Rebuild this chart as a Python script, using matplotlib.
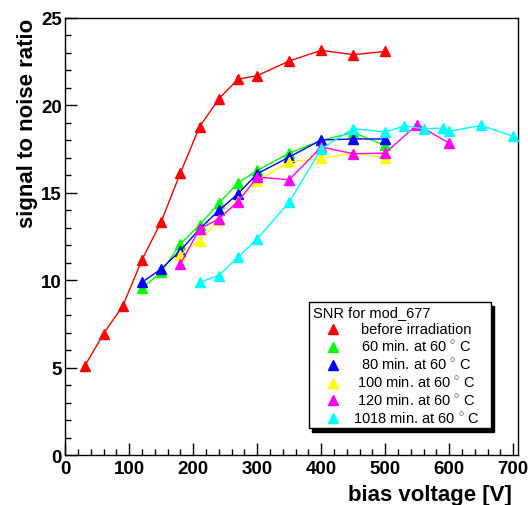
import matplotlib
matplotlib.use('Agg')
import matplotlib.pyplot as plt
from matplotlib.patches import Rectangle
from matplotlib.ticker import MultipleLocator

plt.rcParams['font.family'] = ['Liberation Sans', 'DejaVu Sans']
plt.rcParams['mathtext.fontset'] = 'custom'
plt.rcParams['mathtext.rm'] = 'Liberation Sans'

# bias voltage [V] and signal-to-noise ratio for each annealing step
volts_before = [30, 60, 90, 120, 150, 180, 210, 240, 270, 300, 350, 400, 450, 500]
snr_before = [5.08, 6.95, 8.55, 11.18, 13.36, 16.15, 18.78, 20.38, 21.5, 21.7,
              22.54, 23.15, 22.9, 23.09]

volts_60 = [120, 150, 180, 210, 240, 270, 300, 350, 400, 450, 500]
snr_60 = [9.55, 10.46, 12.08, 13.17, 14.41, 15.57, 16.28, 17.27, 18.0, 18.45, 17.71]

volts_80 = [120, 150, 180, 210, 240, 270, 300, 350, 400, 450, 500]
snr_80 = [9.89, 10.65, 11.7, 12.94, 13.99, 14.95, 16.09, 17.05, 18.02, 18.08, 18.08]

volts_100 = [180, 210, 240, 270, 300, 350, 400, 450, 500]
snr_100 = [11.45, 12.27, 13.45, 14.55, 15.7, 16.76, 16.97, 17.27, 17.02]

volts_120 = [180, 210, 240, 270, 300, 350, 400, 450, 500, 550, 600]
snr_120 = [10.94, 12.94, 13.51, 14.5, 15.9, 15.75, 17.62, 17.24, 17.27, 18.9, 17.84]

volts_1018 = [210, 240, 270, 300, 350, 400, 450, 500, 530, 560, 590, 600, 650, 700]
snr_1018 = [9.89, 10.27, 11.32, 12.37, 14.47, 17.52, 18.67, 18.48, 18.82, 18.67,
            18.7, 18.51, 18.86, 18.23]

series = [
    (volts_before, snr_before, '#ff0000', 'before irradiation'),
    (volts_60, snr_60, '#00ff00', '60 min. at 60 $^{\\circ}$ C'),
    (volts_80, snr_80, '#0000ff', '80 min. at 60 $^{\\circ}$ C'),
    (volts_100, snr_100, '#ffff00', '100 min. at 60 $^{\\circ}$ C'),
    (volts_120, snr_120, '#ff00ff', '120 min. at 60 $^{\\circ}$ C'),
    (volts_1018, snr_1018, '#00ffff', '1018 min. at 60 $^{\\circ}$ C'),
]

fig = plt.figure(figsize=(5.28, 5.06), dpi=100)
ax = fig.add_axes([0.1237, 0.0986, 0.8579, 0.8639])

for v, s, c, lab in series:
    ax.plot(v, s, color=c, lw=1.0, marker='^', ms=7.5, mec=c, mfc=c, zorder=3)

ax.set_xlim(0, 708)
ax.set_ylim(0, 25)
ax.xaxis.set_major_locator(MultipleLocator(100))
ax.xaxis.set_minor_locator(MultipleLocator(20))
ax.yaxis.set_major_locator(MultipleLocator(5))
ax.yaxis.set_minor_locator(MultipleLocator(1))
ax.tick_params(which='both', direction='in', top=False, right=False,
               width=1.0, color='black')
ax.tick_params(which='major', length=8.5, labelsize=13.5)
ax.tick_params(which='minor', length=4.3)
ax.tick_params(axis='y', pad=2.6)
ax.tick_params(axis='x', pad=3.3)
for lbl in ax.get_xticklabels() + ax.get_yticklabels():
    lbl.set_fontweight('bold')
for sp in ax.spines.values():
    sp.set_linewidth(1.0)

ax.set_xlabel('bias voltage [V]', fontsize=16, fontweight='bold', ha='right')
ax.xaxis.set_label_coords(0.986, -0.066)
ax.set_ylabel('signal to noise ratio', fontsize=16, fontweight='bold', ha='right')
ax.yaxis.set_label_coords(-0.06, 1.0)

# legend box with a hard black shadow
x0, x1, y0, y1 = 0.538, 0.939, 0.0613, 0.3496
ax.add_patch(Rectangle((x0 + 0.0073, y0 - 0.0076), x1 - x0, y1 - y0,
                       transform=ax.transAxes, facecolor='black',
                       edgecolor='black', zorder=5, clip_on=False))
ax.add_patch(Rectangle((x0, y0), x1 - x0, y1 - y0, transform=ax.transAxes,
                       facecolor='white', edgecolor='black', lw=1.0,
                       zorder=6, clip_on=False))
ax.text(0.5475, 0.3267, 'SNR for mod_677', transform=ax.transAxes,
        fontsize=10.5, ha='left', va='center', zorder=7)
row_y = 0.2885
for v, s, c, lab in series:
    ax.plot([0.591], [row_y], transform=ax.transAxes, marker='^', ms=6.5,
            color=c, ls='none', zorder=7, clip_on=False)
    ax.text(0.774, row_y, lab, transform=ax.transAxes, fontsize=10.5,
            ha='center', va='center', zorder=7)
    row_y -= 0.0408

fig.savefig('out.png', dpi=100)
